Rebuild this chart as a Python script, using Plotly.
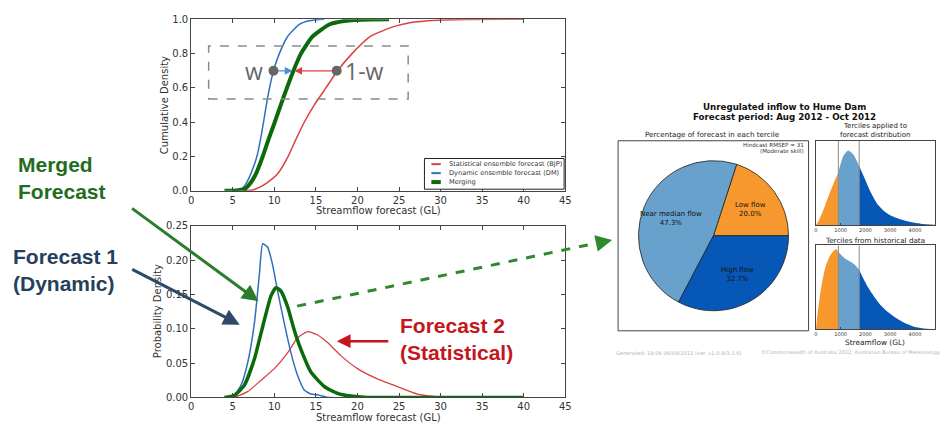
import math
import plotly.graph_objects as go

# ---------------- data ----------------
# Cumulative distributions of streamflow forecast (GL)
cdf_dm_x = [5.0, 6.0, 6.5, 7.0, 7.5, 7.9, 8.3, 8.7, 9.2, 9.9, 10.6, 11.6, 13.0, 14.0, 15.2, 16.0]
cdf_dm_y = [0.0, 0.01, 0.035, 0.08, 0.14, 0.2, 0.29, 0.40, 0.545, 0.70, 0.80, 0.90, 0.97, 0.99, 0.998, 1.0]

cdf_merge_x = [4.0, 5.5, 6.4, 7.2, 7.8, 8.6, 9.3, 10.05, 11.1, 12.3, 13.2, 14.6, 16.6, 18.4, 20.5, 23.8]
cdf_merge_y = [0.0, 0.002, 0.01, 0.05, 0.1, 0.2, 0.3, 0.4, 0.545, 0.7, 0.8, 0.9, 0.97, 0.99, 0.998, 1.0]

cdf_bjp_x = [6.4, 7.2, 8.2, 9.2, 10.4, 11.65, 12.6, 13.6, 14.8, 16.2, 17.6, 19.35, 21.55, 23.9, 26.3, 29.5, 33.0, 40.0]
cdf_bjp_y = [0.0, 0.003, 0.02, 0.05, 0.1, 0.2, 0.3, 0.4, 0.5, 0.6, 0.7, 0.8, 0.9, 0.95, 0.98, 0.995, 0.999, 1.0]

# Probability densities
pdf_dm_x = [4.0, 5.2, 6.0, 6.8, 7.6, 8.2, 8.6, 9.2, 9.8, 10.4, 11.2, 12.0, 12.8, 13.6, 14.4, 15.2, 16.4, 17.0]
pdf_dm_y = [0.0, 0.004, 0.018, 0.051, 0.108, 0.179, 0.224, 0.219, 0.193, 0.155, 0.108, 0.065, 0.032, 0.011, 0.005, 0.004, 0.0, 0.0]

pdf_merge_x = [4.0, 5.2, 6.4, 7.6, 8.8, 9.6, 10.2, 10.8, 11.6, 12.4, 13.2, 14.4, 16.0, 17.6, 19.2, 21.2, 30.0, 40.0]
pdf_merge_y = [0.0, 0.003, 0.018, 0.056, 0.113, 0.148, 0.160, 0.155, 0.132, 0.098, 0.070, 0.037, 0.016, 0.006, 0.002, 0.0, 0.0, 0.0]

pdf_bjp_x = [5.2, 6.8, 8.4, 10.0, 11.6, 12.8, 14.0, 15.2, 16.4, 18.0, 20.0, 22.4, 25.2, 27.2, 29.2, 31.0, 40.0]
pdf_bjp_y = [0.0, 0.0085, 0.025, 0.042, 0.065, 0.087, 0.096, 0.091, 0.080, 0.061, 0.042, 0.027, 0.014, 0.005, 0.0015, 0.0, 0.0]

series_names = ["Statistical ensemble forecast (BJP)", "Dynamic ensemble forecast (DM)", "Merging"]

# weighting illustration points on the CDF
w_points_x = [9.9, 17.5]
w_level = 0.7
merged_at_level = 12.3

# Tercile forecast for Hume Dam
tercile_labels = ["Low flow", "Near median flow", "High flow"]
tercile_pct = [20.0, 47.3, 32.7]

# Relative densities of the forecast and historical distributions (GL)
fc_x = [0, 107, 307, 507, 707, 907, 1107, 1307, 1507, 1747, 1973, 2240, 2507, 2773, 3040, 3440, 3840, 4240, 4800]
fc_y = [0.0, 0.046, 0.18, 0.34, 0.49, 0.625, 0.82, 0.884, 0.84, 0.70, 0.55, 0.375, 0.24, 0.16, 0.11, 0.066, 0.035, 0.015, 0.004]

hist_x = [0, 40, 173, 373, 573, 733, 813, 907, 973, 1173, 1440, 1640, 1747, 1840, 2107, 2373, 2640, 2907, 3173, 3573, 3973, 4373, 4800]
hist_y = [0.0, 0.11, 0.42, 0.73, 0.88, 0.94, 0.953, 0.925, 0.90, 0.845, 0.80, 0.75, 0.71, 0.65, 0.50, 0.38, 0.28, 0.205, 0.147, 0.078, 0.031, 0.008, 0.0]

tercile_bounds = [907, 1747]
small_ticks = [0, 1000, 2000, 3000, 4000]

# ---------------- styling ----------------
W, H = 946, 433
def fx(p):
    return p / W
def fy(p):
    return 1 - p / H

RED = "#d8413f"
BLUE = "#2f6fc0"
GREEN = "#0b6b0b"
ORANGE = "#f7982f"
LBLUE = "#68a1cc"
DBLUE = "#0758b6"
MPL = "DejaVu Sans"

fig = go.Figure()

def curve(x, y, color, width, xa, ya):
    fig.add_trace(go.Scatter(x=x, y=y, mode="lines",
                             line=dict(color=color, width=width, shape="spline", smoothing=0.5),
                             xaxis=xa, yaxis=ya, hoverinfo="skip", showlegend=False))

# CDF panel
curve(cdf_bjp_x, cdf_bjp_y, RED, 1.5, "x", "y")
curve(cdf_dm_x, cdf_dm_y, BLUE, 1.5, "x", "y")
curve(cdf_merge_x, cdf_merge_y, GREEN, 4, "x", "y")
fig.add_trace(go.Scatter(x=w_points_x, y=[w_level] * len(w_points_x), mode="markers",
                         marker=dict(color="#666666", size=10), xaxis="x", yaxis="y",
                         hoverinfo="skip", showlegend=False))

# PDF panel
curve(pdf_bjp_x, pdf_bjp_y, RED, 1.3, "x2", "y2")
curve(pdf_dm_x, pdf_dm_y, BLUE, 1.5, "x2", "y2")
curve(pdf_merge_x, pdf_merge_y, GREEN, 3.5, "x2", "y2")

# tercile-shaded densities
def tercile_fill(xs, ys, xa, ya):
    lo, hi = tercile_bounds
    parts = [
        ([x for x in xs if x <= lo], ORANGE),
        ([x for x in xs if lo <= x <= hi], LBLUE),
        ([x for x in xs if x >= hi], DBLUE),
    ]
    for sub_x, col in parts:
        sub_y = [ys[xs.index(x)] for x in sub_x]
        fig.add_trace(go.Scatter(x=sub_x, y=sub_y, mode="lines", fill="tozeroy",
                                 fillcolor=col, line=dict(width=0, color=col, shape="spline", smoothing=0.6),
                                 xaxis=xa, yaxis=ya, hoverinfo="skip", showlegend=False))
    for b in tercile_bounds:
        fig.add_trace(go.Scatter(x=[b, b], y=[0, 1], mode="lines",
                                 line=dict(color="#8a8a8a", width=1),
                                 xaxis=xa, yaxis=ya, hoverinfo="skip", showlegend=False))

tercile_fill(fc_x, fc_y, "x3", "y3")
tercile_fill(hist_x, hist_y, "x4", "y4")

# pie of tercile probabilities; first slice runs counterclockwise from 3 o'clock
PCX, PCY, PR = 717.3, 236.7, 77
fig.add_trace(go.Pie(values=tercile_pct, labels=tercile_labels, sort=False,
                     direction="counterclockwise",
                     rotation=90 - tercile_pct[0] * 3.6,
                     marker=dict(colors=[ORANGE, LBLUE, DBLUE], line=dict(color="#222222", width=0.8)),
                     domain=dict(x=[fx(PCX - PR), fx(PCX + PR)], y=[fy(PCY + PR), fy(PCY - PR)]),
                     textinfo="none", hoverinfo="skip", showlegend=False))

axis_common = dict(showline=True, linecolor="#444444", linewidth=1, mirror="ticks",
                   ticks="inside", ticklen=4, tickcolor="#444444", showgrid=False,
                   zeroline=False, tickfont=dict(family=MPL, size=10, color="#333333"))
small_common = dict(showline=True, linecolor="#444444", linewidth=1, mirror=True,
                    showgrid=False, zeroline=False)

fig.update_layout(
    width=W, height=H, margin=dict(l=0, r=0, t=0, b=0),
    paper_bgcolor="white", plot_bgcolor="white", showlegend=False,
    xaxis=dict(domain=[fx(190), fx(567.7)], anchor="y", range=[0, 45], dtick=5, **axis_common),
    yaxis=dict(domain=[fy(190.7), fy(14.7)], anchor="x", range=[0, 1], dtick=0.2, tickformat=".1f", **axis_common),
    xaxis2=dict(domain=[fx(190), fx(567.7)], anchor="y2", range=[0, 45], dtick=5, **axis_common),
    yaxis2=dict(domain=[fy(402.7), fy(226.7)], anchor="x2", range=[0, 0.25], dtick=0.05, tickformat=".2f", **axis_common),
    xaxis3=dict(domain=[fx(820.7), fx(940.7)], anchor="y3", range=[0, 4800], tickvals=small_ticks,
                ticks="inside", ticklen=2, tickcolor="#444444",
                tickfont=dict(family=MPL, size=5, color="#333333"), **small_common),
    yaxis3=dict(domain=[fy(225.7), fy(139.3)], anchor="x3", range=[0, 1], showticklabels=False, **small_common),
    xaxis4=dict(domain=[fx(820.7), fx(940.7)], anchor="y4", range=[0, 4800], tickvals=small_ticks,
                ticks="inside", ticklen=2, tickcolor="#444444",
                tickfont=dict(family=MPL, size=5, color="#333333"), **small_common),
    yaxis4=dict(domain=[fy(332.7), fy(246.7)], anchor="x4", range=[0, 1], showticklabels=False, **small_common),
)

shapes = []
ann = []

def text(x, y, s, size, color="#333333", family=MPL, xanchor="center", bold=False, angle=0, align="center"):
    ann.append(dict(x=fx(x), y=fy(y), xref="paper", yref="paper", text=f"<b>{s}</b>" if bold else s,
                    showarrow=False, xanchor=xanchor, yanchor="middle", textangle=angle, align=align,
                    font=dict(family=family, size=size, color=color)))

def arrow(tail, head, color, width, size=1.0, head_style=2):
    ann.append(dict(x=fx(head[0]), y=fy(head[1]), xref="paper", yref="paper",
                    ax=tail[0] - head[0], ay=tail[1] - head[1], axref="pixel", ayref="pixel",
                    text="", showarrow=True, arrowhead=head_style, arrowwidth=width,
                    arrowsize=size, arrowcolor=color, standoff=0))

# axis titles
text(378.9, 211, "Streamflow forecast (GL)", 10)
text(378.9, 423, "Streamflow forecast (GL)", 10)
text(162.7, 102.7, "Cumulative Density", 10, angle=-90)
text(156, 314.7, "Probability Density", 10, angle=-90)

# dashed frame around the weighting illustration
shapes.append(dict(type="rect", xref="x", yref="y", x0=2.1, x1=26.1, y0=0.535, y1=0.845,
                   line=dict(color="#8a8a8a", width=1.5, dash="dash")))
ann.append(dict(x=7.6, y=w_level, xref="x", yref="y", text="w", showarrow=False,
                font=dict(family="Open Sans", size=23, color="#666666")))
ann.append(dict(x=20.8, y=w_level, xref="x", yref="y", text="1-w", showarrow=False,
                font=dict(family="Open Sans", size=23, color="#666666")))
ann.append(dict(x=merged_at_level - 0.1, y=w_level, ax=w_points_x[0] + 0.4, ay=w_level,
                xref="x", yref="y", axref="x", ayref="y", text="", showarrow=True,
                arrowhead=2, arrowwidth=1.3, arrowsize=1.2, arrowcolor="#4a8fd8", standoff=0))
ann.append(dict(x=merged_at_level + 0.1, y=w_level, ax=w_points_x[1] - 0.4, ay=w_level,
                xref="x", yref="y", axref="x", ayref="y", text="", showarrow=True,
                arrowhead=2, arrowwidth=1.3, arrowsize=1.2, arrowcolor="#e0413f", standoff=0))

# legend of the CDF panel
shapes.append(dict(type="rect", xref="paper", yref="paper", x0=fx(425.5), x1=fx(566.5),
                   y0=fy(189), y1=fy(157.5), line=dict(color="#222222", width=1), fillcolor="white"))
for name, col, lw, yy in zip(series_names, [RED, BLUE, GREEN], [2, 2, 4], [163.3, 172.5, 181.7]):
    shapes.append(dict(type="line", xref="paper", yref="paper", x0=fx(432.5), x1=fx(442),
                       y0=fy(yy), y1=fy(yy), line=dict(color=col, width=lw)))
    text(448, yy, name, 6.6, xanchor="left")

# call-out labels
text(13, 178, "Merged<br>Forecast", 21, color="#1e6e1e", family="Liberation Sans", xanchor="left", bold=True, align="left")
text(8, 272, "Forecast 1<br>(Dynamic)", 21, color="#253f5c", family="Liberation Sans", xanchor="left", bold=True, align="left")
text(399, 343, "Forecast 2<br>(Statistical)", 21, color="#c4161c", family="Liberation Sans", xanchor="left", bold=True, align="left")

arrow((130, 210), (258, 304), "#2a7d2a", 3, 1.1)
arrow((130, 272), (239, 328), "#2d4a68", 3, 1.1)
arrow((390, 345), (337, 345), "#c4161c", 2.5, 1.1)

# dashed link to the tercile outlook
shapes.append(dict(type="line", xref="paper", yref="paper", x0=fx(297), y0=fy(309), x1=fx(603), y1=fy(243.5),
                   line=dict(color="#2f8a2f", width=3, dash="dash")))
arrow((601, 244), (615, 241), "#2f8a2f", 3, 1.1)

# tercile outlook panel
text(789, 104.3, "Unregulated inflow to Hume Dam", 8.7, color="#111111", bold=True)
text(789, 115, "Forecast period: Aug 2012 - Oct 2012", 8.7, color="#111111", bold=True)
text(716.7, 133, "Percentage of forecast in each tercile", 7.2, color="#222222")
text(880, 123.8, "Terciles applied to", 7.0, color="#222222")
text(880, 133, "forecast distribution", 7.0, color="#222222")
text(880, 241.7, "Terciles from historical data", 7.2, color="#222222")
text(880, 346.7, "Streamflow (GL)", 7.4, color="#222222")
text(810.5, 143.6, "Hindcast RMSEP = 31", 5.6, xanchor="right")
text(810.5, 150.2, "(Moderate skill)", 5.6, xanchor="right")
shapes.append(dict(type="rect", xref="paper", yref="paper", x0=fx(621), x1=fx(813.3),
                   y0=fy(334.3), y1=fy(139.3), line=dict(color="#444444", width=1)))

# pie labels at 0.6 of the radius along each slice's mid-angle
start = 0.0
for lab, pct in zip(tercile_labels, tercile_pct):
    mid = math.radians(start + pct * 3.6 / 2)
    start += pct * 3.6
    tx = PCX + 0.6 * PR * math.cos(mid)
    ty = PCY - 0.6 * PR * math.sin(mid)
    text(tx, ty, f"{lab}<br>{pct:.1f}%", 7, color="#111111")

text(682, 357, "Generated: 19:06 06/08/2012 (ver. v1.0.9/3.1.6)", 5.2, color="#b5b5b5")
text(856, 357, "©Commonwealth of Australia 2012, Australian Bureau of Meteorology", 5.1, color="#b5b5b5")

fig.update_layout(shapes=shapes, annotations=ann)
fig.write_html("out.html")
